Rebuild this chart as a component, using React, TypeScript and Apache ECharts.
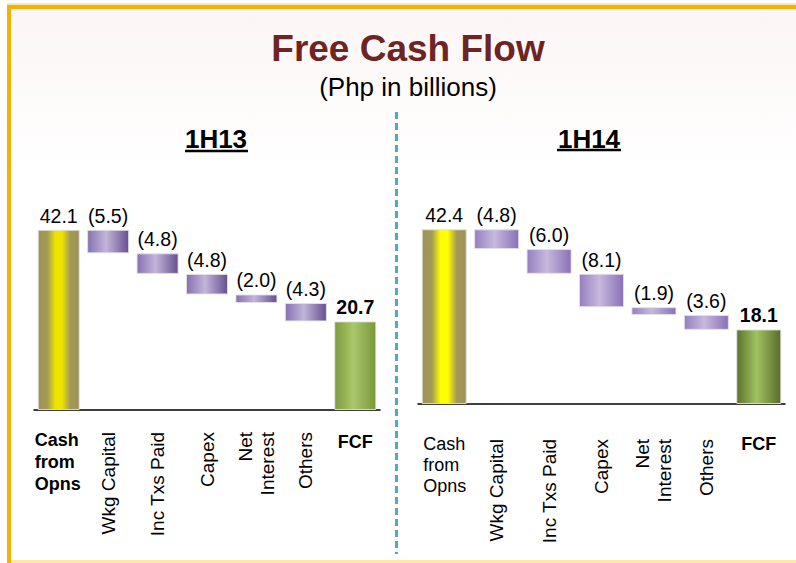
import React, { useEffect, useRef } from 'react';
import * as echarts from 'echarts';

const FONT = '"Liberation Sans", Arial, Helvetica, sans-serif';

const categories = ['Cash from Opns', 'Wkg Capital', 'Inc Txs Paid', 'Capex', 'Net Interest', 'Others', 'FCF'];
const rotatedLabels = ['', 'Wkg Capital', 'Inc Txs Paid', 'Capex', 'Net\nInterest', 'Others', ''];
const periods = ['1H13', '1H14'];

const cash1H13 = 42.1;
const deductions1H13 = [5.5, 4.8, 4.8, 2.0, 4.3];
const fcf1H13 = 20.7;

const cash1H14 = 42.4;
const deductions1H14 = [4.8, 6.0, 8.1, 1.9, 3.6];
const fcf1H14 = 18.1;

function buildWaterfall(cash: number, deductions: number[], fcf: number) {
  const base: number[] = [0];
  const vis: number[] = [cash];
  let run = cash;
  deductions.forEach((d) => {
    run = Math.round((run - d) * 10) / 10;
    base.push(run);
    vis.push(d);
  });
  base.push(0);
  vis.push(fcf);
  return { base, vis };
}

const lg = (stops: [number, string][]) =>
  new echarts.graphic.LinearGradient(0, 0, 1, 0, stops.map(([offset, color]) => ({ offset, color })));

const palettes = [
  {
    cash: lg([[0, '#9E9258'], [0.22, '#A39A55'], [0.42, '#EEE400'], [0.58, '#EEE400'], [0.78, '#A39A55'], [1, '#9E9258']]),
    neg: lg([[0, '#8672B0'], [0.45, '#C2B5DA'], [1, '#66508F']]),
    fcf: lg([[0, '#7E9A3C'], [0.45, '#A9C86A'], [1, '#7A963A']]),
  },
  {
    cash: lg([[0, '#9E9258'], [0.22, '#A39A55'], [0.42, '#FFFF00'], [0.58, '#FFFF00'], [0.78, '#A39A55'], [1, '#9E9258']]),
    neg: lg([[0, '#957FC0'], [0.45, '#C6B9DE'], [1, '#8A70B8']]),
    fcf: lg([[0, '#5C722E'], [0.45, '#A2C262'], [1, '#586C2A']]),
  },
];

export default function App() {
  const ref = useRef<HTMLDivElement>(null);

  useEffect(() => {
    if (!ref.current) return;
    const chart = echarts.init(ref.current, undefined, { renderer: 'svg' });

    const wf = [
      buildWaterfall(cash1H13, deductions1H13, fcf1H13),
      buildWaterfall(cash1H14, deductions1H14, fcf1H14),
    ];

    const grids = [
      { left: 34, top: 196, width: 346, height: 214 },
      { left: 418, top: 198, width: 367, height: 206 },
    ];
    const barWidths = [42, 45];
    const boldCash = [true, false];
    const rotMargin = [22, 35];
    const horMargin = [19, 29];
    const cashTokenWidth = [48, 42];

    const xAxes: any[] = [];
    const yAxes: any[] = [];
    const series: any[] = [];

    [0, 1].forEach((k) => {
      xAxes.push({
        type: 'category',
        gridIndex: k,
        position: 'bottom',
        data: categories,
        axisLine: { show: true, lineStyle: { color: '#000', width: 1.5 } },
        axisTick: { show: false },
        axisLabel: {
          interval: 0,
          rotate: 90,
          margin: rotMargin[k],
          fontSize: 19,
          lineHeight: 22,
          color: '#000',
          fontFamily: FONT,
          formatter: (_v: string, i: number) => rotatedLabels[i],
        },
      });
      xAxes.push({
        type: 'category',
        gridIndex: k,
        position: 'bottom',
        data: categories,
        axisLine: { show: false },
        axisTick: { show: false },
        axisLabel: {
          interval: 0,
          margin: horMargin[k],
          color: '#000',
          fontFamily: FONT,
          formatter: (_v: string, i: number) =>
            i === 0 ? '{c|Cash}\n{c|from}\n{c|Opns}' : i === 6 ? '{f|FCF}' : '',
          rich: {
            c: {
              width: cashTokenWidth[k],
              align: 'left',
              fontSize: 18,
              lineHeight: k === 0 ? 22 : 21,
              fontWeight: boldCash[k] ? 'bold' : 'normal',
              fontFamily: FONT,
              color: '#000',
            },
            f: {
              fontSize: 18,
              lineHeight: 22,
              fontWeight: 'bold',
              fontFamily: FONT,
              color: '#000',
              padding: k === 0 ? [4, 0, 0, 0] : [0, 0, 0, 0],
            },
          },
        },
      });
      yAxes.push({
        type: 'value',
        gridIndex: k,
        min: 0,
        max: 50,
        show: false,
        splitLine: { show: false },
      });

      const pal = palettes[k];
      series.push({
        type: 'bar',
        name: periods[k] + ' base',
        xAxisIndex: 2 * k,
        yAxisIndex: k,
        stack: 'wf' + k,
        barWidth: barWidths[k],
        silent: true,
        itemStyle: { color: 'rgba(0,0,0,0)' },
        data: wf[k].base,
      });
      series.push({
        type: 'bar',
        name: periods[k],
        xAxisIndex: 2 * k,
        yAxisIndex: k,
        stack: 'wf' + k,
        barWidth: barWidths[k],
        data: wf[k].vis.map((v, i) => ({
          value: v,
          itemStyle: {
            color: i === 0 ? pal.cash : i === 6 ? pal.fcf : pal.neg,
            borderColor: 'rgba(225,225,225,0.9)',
            borderWidth: 1,
          },
          label: i === 6 ? { fontWeight: 'bold' } : undefined,
        })),
        label: {
          show: true,
          position: 'top',
          distance: 4,
          fontSize: 19.5,
          color: '#000',
          fontFamily: FONT,
          formatter: (p: any) =>
            p.dataIndex === 0 || p.dataIndex === 6
              ? Number(p.value).toFixed(1)
              : '(' + Number(p.value).toFixed(1) + ')',
        },
      });
    });

    chart.setOption({
      animation: false,
      backgroundColor: '#ffffff',
      grid: grids,
      xAxis: xAxes,
      yAxis: yAxes,
      series,
      graphic: [
        {
          type: 'rect',
          z: -10,
          shape: { x: 11, y: 9, width: 785, height: 160 },
          style: {
            fill: new echarts.graphic.LinearGradient(0, 0, 0, 1, [
              { offset: 0, color: '#FCF5F5' },
              { offset: 1, color: '#FFFFFF' },
            ]),
          },
        },
        { type: 'rect', shape: { x: 7, y: 3, width: 789, height: 2 }, style: { fill: '#FBE7B0' } },
        { type: 'rect', shape: { x: 7, y: 5, width: 789, height: 4 }, style: { fill: '#F0B400' } },
        { type: 'rect', shape: { x: 7, y: 5, width: 4, height: 558 }, style: { fill: '#F0B400' } },
        { type: 'rect', shape: { x: 11, y: 560, width: 785, height: 3 }, style: { fill: '#FBE9A6' } },
        {
          type: 'text',
          x: 408,
          y: 48,
          style: {
            text: 'Free Cash Flow',
            fill: '#6E2424',
            fontSize: 37,
            fontWeight: 'bold',
            fontFamily: FONT,
            align: 'center',
            verticalAlign: 'middle',
          },
        },
        {
          type: 'text',
          x: 408,
          y: 87,
          style: {
            text: '(Php in billions)',
            fill: '#000',
            fontSize: 26,
            fontFamily: FONT,
            align: 'center',
            verticalAlign: 'middle',
          },
        },
        {
          type: 'text',
          x: 216,
          y: 139,
          style: {
            text: periods[0],
            fill: '#000',
            fontSize: 26,
            fontWeight: 'bold',
            fontFamily: FONT,
            align: 'center',
            verticalAlign: 'middle',
          },
        },
        {
          type: 'line',
          shape: { x1: 185, y1: 151, x2: 248, y2: 151 },
          style: { stroke: '#000', lineWidth: 2.5 },
        },
        {
          type: 'text',
          x: 589,
          y: 139,
          style: {
            text: periods[1],
            fill: '#000',
            fontSize: 26,
            fontWeight: 'bold',
            fontFamily: FONT,
            align: 'center',
            verticalAlign: 'middle',
          },
        },
        {
          type: 'line',
          shape: { x1: 557, y1: 150, x2: 621, y2: 150 },
          style: { stroke: '#000', lineWidth: 2.5 },
        },
        {
          type: 'line',
          shape: { x1: 396.5, y1: 112, x2: 396.5, y2: 554 },
          style: { stroke: '#4BACC6', lineWidth: 3, lineDash: [7, 4] },
        },
      ],
    });

    return () => chart.dispose();
  }, []);

  return (
    <div
      ref={ref}
      style={{ position: 'fixed', left: 0, top: 0, width: 796, height: 563 }}
    />
  );
}
